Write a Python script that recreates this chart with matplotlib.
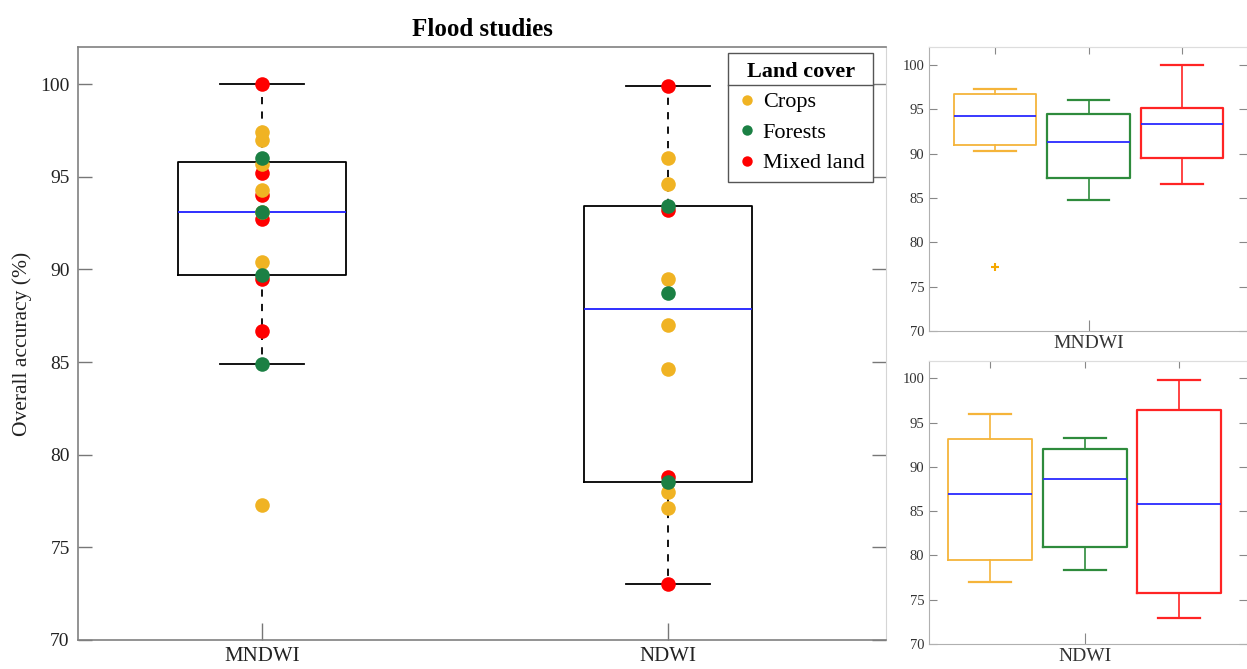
import matplotlib
matplotlib.use("Agg")
import matplotlib.pyplot as plt
from matplotlib.lines import Line2D

plt.rcParams['font.family'] = ['Liberation Serif', 'DejaVu Serif']

# ---------------- data ----------------
indices = ["MNDWI", "NDWI"]
groups = ["Crops", "Forests", "Mixed land"]

mndwi_crops = [97.4, 97.0, 95.7, 94.3, 93.1, 90.4, 77.3]
mndwi_forests = [96.0, 93.1, 89.7, 84.9]
mndwi_mixed = [100.0, 95.2, 94.0, 92.7, 89.5, 86.7]

ndwi_crops = [96.0, 94.6, 89.5, 87.0, 84.6, 78.0, 77.1]
ndwi_forests = [93.4, 88.7, 78.5]
ndwi_mixed = [99.9, 93.2, 78.8, 73.0]

# main box stats: whislo, q1, med, q3, whishi
main_stats = {
    "MNDWI": [84.9, 89.7, 93.1, 95.8, 100.0],
    "NDWI": [73.0, 78.5, 87.85, 93.4, 99.9],
}
# per-group box stats: whislo, q1, med, q3, whishi, fliers
sub_stats_mndwi = {
    "Crops": [90.3, 91.0, 94.3, 96.7, 97.3, [77.2]],
    "Forests": [84.8, 87.3, 91.35, 94.5, 96.0, []],
    "Mixed land": [86.6, 89.55, 93.3, 95.1, 100.0, []],
}
sub_stats_ndwi = {
    "Crops": [76.95, 79.5, 86.9, 93.2, 95.95, []],
    "Forests": [78.35, 80.95, 88.6, 92.05, 93.3, []],
    "Mixed land": [72.9, 75.75, 85.85, 96.4, 99.8, []],
}

point_colors = {"Crops": "#F0B323", "Forests": "#1B8044", "Mixed land": "#FF0000"}
box_colors = {"Crops": "#F5B43A", "Forests": "#2E8B3C", "Mixed land": "#FF2424"}

W, H = 1247, 669
fig = plt.figure(figsize=(W / 100, H / 100), dpi=100)

def fx(px):
    return px / W

def fy(py):
    return 1 - py / H

# ---------------- main axes ----------------
ax = fig.add_axes([fx(78), fy(640), fx(886) - fx(78), fy(47) - fy(640)])
pos = [1, 2]
stats = []
for name in indices:
    lo, q1, med, q3, hi = main_stats[name]
    stats.append(dict(whislo=lo, q1=q1, med=med, q3=q3, whishi=hi, fliers=[], label=name))
ax.bxp(stats, positions=pos, widths=0.414, showfliers=False, showcaps=True,
       boxprops=dict(color="black", linewidth=1.3),
       medianprops=dict(color="#1f1fff", linewidth=1.3),
       whiskerprops=dict(color="black", linewidth=1.3, linestyle=(0, (4, 4))),
       capprops=dict(color="black", linewidth=1.3), capwidths=0.207)

data = {
    "MNDWI": {"Crops": mndwi_crops, "Forests": mndwi_forests, "Mixed land": mndwi_mixed},
    "NDWI": {"Crops": ndwi_crops, "Forests": ndwi_forests, "Mixed land": ndwi_mixed},
}
order = ["Mixed land", "Crops", "Forests"]
for i, name in enumerate(indices):
    for g in order:
        vals = data[name][g]
        ax.scatter([pos[i]] * len(vals), vals, s=110, color=point_colors[g],
                   zorder=3 + order.index(g), linewidths=0)

ax.set_xlim(0.547, 2.537)
ax.set_ylim(70, 102)
ax.set_yticks([70, 75, 80, 85, 90, 95, 100])
ax.set_xticks(pos)
ax.set_xticklabels(indices)
ax.tick_params(direction="in", length=10, width=1, colors="#777777", labelcolor="#222222",
               labelsize=14, right=True, top=False)
ax.tick_params(axis="y", pad=6)
ax.tick_params(axis="x", length=12, pad=5, labelsize=15)
for s in ["left", "bottom", "top"]:
    ax.spines[s].set_color("#808080")
    ax.spines[s].set_linewidth(1.2)
ax.spines["right"].set_color("#d5d5d5")
ax.set_ylabel("Overall accuracy (%)", fontsize=15.5, color="#222222", labelpad=6)
ax.set_title("Flood studies", fontsize=18, fontweight="bold", pad=8)

handles = [Line2D([], [], marker="o", linestyle="none", markersize=7.5,
                  markerfacecolor=point_colors[g], markeredgewidth=0, label=g) for g in groups]
leg = ax.legend(handles=handles, title="Land cover", loc="upper right",
                bbox_to_anchor=(0.9845, 0.99), fontsize=16, title_fontsize=16,
                frameon=True, fancybox=False, edgecolor="#555555", framealpha=1,
                handletextpad=0.25, handlelength=0.9, borderpad=0.4, labelspacing=0.45,
                borderaxespad=0.0)
leg.get_title().set_fontweight("bold")
leg.get_frame().set_linewidth(1.0)

# ---------------- sub axes ----------------
def draw_sub(rect, sstats, xlim, label):
    a = fig.add_axes(rect)
    st = []
    for g in groups:
        lo, q1, med, q3, hi, fl = sstats[g]
        st.append(dict(whislo=lo, q1=q1, med=med, q3=q3, whishi=hi, fliers=fl, label=g))
    arts = a.bxp(st, positions=[1, 2, 3], widths=0.885, capwidths=0.44, showfliers=True)
    for j, g in enumerate(groups):
        c = box_colors[g]
        lw = 1.3 if g == "Crops" else 1.6
        arts["boxes"][j].set(color=c, linewidth=lw)
        for k in (2 * j, 2 * j + 1):
            arts["whiskers"][k].set(color=c, linewidth=1.2, linestyle="-")
            arts["caps"][k].set(color=c, linewidth=1.6)
        arts["medians"][j].set(color="#2a2aff", linewidth=1.3)
        arts["fliers"][j].set(marker="+", markeredgecolor="#F5A800", markersize=6,
                              markeredgewidth=1.5)
    a.set_xlim(*xlim)
    a.set_ylim(70, 102)
    a.set_yticks([70, 75, 80, 85, 90, 95, 100])
    a.set_xticks([2])
    a.set_xticklabels([label])
    sec = a.secondary_xaxis("top")
    sec.set_xticks([1, 2, 3])
    sec.tick_params(direction="in", length=5, colors="#888888", labelsize=0, labeltop=False)
    sec.spines["top"].set_color("#dddddd")
    a.tick_params(direction="in", length=6, colors="#888888", labelcolor="#333333",
                  labelsize=10.5, right=True)
    a.tick_params(axis="x", labelsize=14, length=8, pad=3)
    for s in ["top", "right"]:
        a.spines[s].set_color("#dddddd")
    for s in ["left", "bottom"]:
        a.spines[s].set_color("#b0b0b0")
    return a

draw_sub([fx(929.3), fy(331), fx(1246.5) - fx(929.3), fy(47.3) - fy(331)],
         sub_stats_mndwi, (0.297, 3.69), "MNDWI")
draw_sub([fx(929.3), fy(644), fx(1246.5) - fx(929.3), fy(360.7) - fy(644)],
         sub_stats_ndwi, (0.358, 3.71), "NDWI")

# separator line under the legend title
fig.canvas.draw()
r = fig.canvas.get_renderer()
lb = leg.get_frame().get_window_extent(r)
tb = leg.get_title().get_window_extent(r)
ysep = tb.y0 - 3
fig.add_artist(Line2D([lb.x0 / W, lb.x1 / W], [ysep / H, ysep / H],
                      color="#555555", linewidth=1.0))

fig.savefig("out.png", dpi=100)
